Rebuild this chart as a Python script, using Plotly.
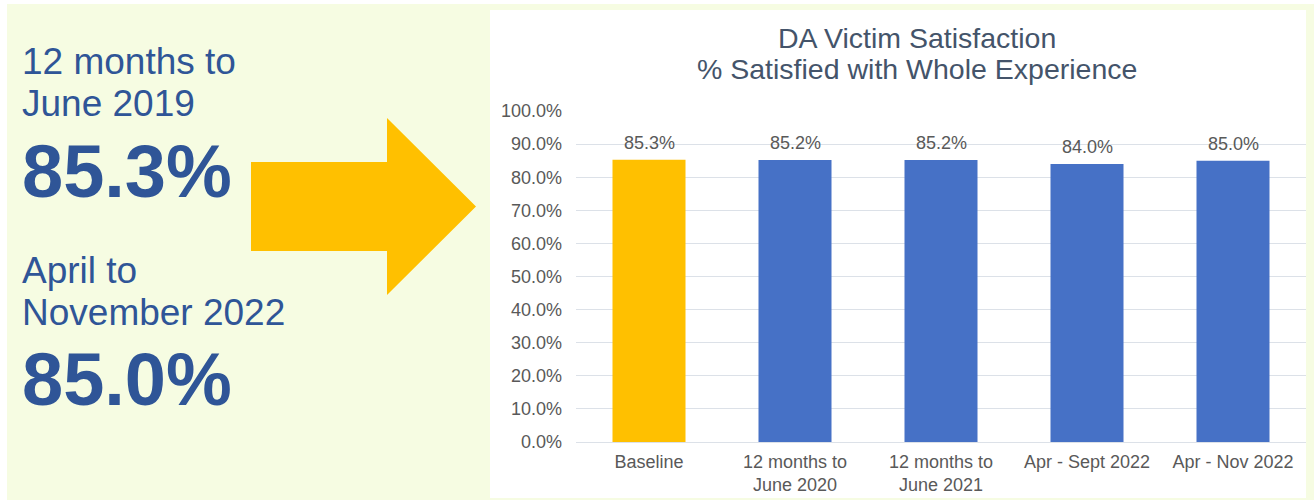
import plotly.graph_objects as go

# ---- data ----
categories = ["Baseline", "12 months to<br>June 2020", "12 months to<br>June 2021",
              "Apr - Sept 2022", "Apr - Nov 2022"]
values = [0.853, 0.852, 0.852, 0.840, 0.850]
bar_colors = ["#FFC000", "#4671C6", "#4671C6", "#4671C6", "#4671C6"]
y_ticks = [0.0, 0.1, 0.2, 0.3, 0.4, 0.5, 0.6, 0.7, 0.8, 0.9, 1.0]

title_lines = ["DA Victim Satisfaction", "% Satisfied with Whole Experience"]
headline_periods = ["12 months to", "June 2019", "April to", "November 2022"]
headline_values = ["85.3%", "85.0%"]

W, H = 1314, 500
def px(x):
    return x / W
def py(y):
    return 1 - y / H

TEXT_BLUE = "#2F5597"
GRAY = "#595959"
FONT = "Liberation Sans, Arial, sans-serif"

fig = go.Figure()
fig.add_trace(go.Bar(
    x=categories, y=values, marker=dict(color=bar_colors, line=dict(width=0)),
    width=0.5, hoverinfo="skip", showlegend=False,
))

annotations = []
# value labels above bars (positioned via data)
for c, v in zip(categories, values):
    annotations.append(dict(
        x=c, y=v, xref="x", yref="y", text=f"{v*100:.1f}%", showarrow=False,
        yanchor="bottom", yshift=5, font=dict(size=18, color=GRAY, family=FONT),
    ))

# chart title (two lines)
for text, yc in zip(title_lines, [38, 69]):
    annotations.append(dict(
        x=px(917), y=py(yc), xref="paper", yref="paper", xanchor="center", yanchor="middle",
        text=text, showarrow=False, font=dict(size=28.5, color="#44546A", family=FONT),
    ))

# left panel texts
left_items = [
    (headline_periods[0], 61, 37, False),
    (headline_periods[1], 104, 37, False),
    (headline_values[0], 171, 74, True),
    (headline_periods[2], 270, 37, False),
    (headline_periods[3], 312, 37, False),
    (headline_values[1], 379, 74, True),
]
for text, yc, size, bold in left_items:
    annotations.append(dict(
        x=px(20), y=py(yc), xref="paper", yref="paper", xanchor="left", yanchor="middle",
        text=f"<b>{text}</b>" if bold else text, showarrow=False,
        font=dict(size=size, color=TEXT_BLUE, family=FONT),
    ))

shapes = [
    # yellow background panel
    dict(type="rect", xref="paper", yref="paper", x0=px(7), x1=1, y0=0, y1=py(4),
         fillcolor="#F6FCE2", line=dict(width=0), layer="below"),
    # white chart box
    dict(type="rect", xref="paper", yref="paper", x0=px(490), x1=px(1306), y0=py(498), y1=py(10),
         fillcolor="white", line=dict(width=0), layer="below"),
    # arrow
    dict(type="path", xref="paper", yref="paper",
         path=(f"M {px(251)},{py(162)} L {px(387)},{py(162)} L {px(387)},{py(118)} "
               f"L {px(476)},{py(206.5)} L {px(387)},{py(295)} L {px(387)},{py(251)} "
               f"L {px(251)},{py(251)} Z"),
         fillcolor="#FFC000", line=dict(width=0), layer="above"),
]

fig.update_layout(
    width=W, height=H, margin=dict(l=0, r=0, t=0, b=0, pad=0, autoexpand=False),
    paper_bgcolor="white", plot_bgcolor="rgba(0,0,0,0)",
    xaxis=dict(domain=[px(576), px(1306)], range=[-0.5, 4.5], showgrid=False, showline=False,
               tickfont=dict(size=18, color=GRAY, family=FONT), ticks="",
               ticklabelstandoff=7, automargin=False),
    yaxis=dict(domain=[py(442), py(111)], range=[0, 1.0], tickvals=y_ticks, tickformat=".1%",
               showgrid=True, gridcolor="#DCE1E8", gridwidth=1, zeroline=True,
               zerolinecolor="#DCE1E8", zerolinewidth=1, showline=False, ticks="",
               ticklabelstandoff=13, automargin=False,
               tickfont=dict(size=18, color=GRAY, family=FONT)),
    annotations=annotations, shapes=shapes, bargap=0.5,
)

fig.write_html(
    "out.html",
    config={"displayModeBar": False},
    post_script="document.body.style.margin='0';document.body.style.overflow='hidden';",
)
